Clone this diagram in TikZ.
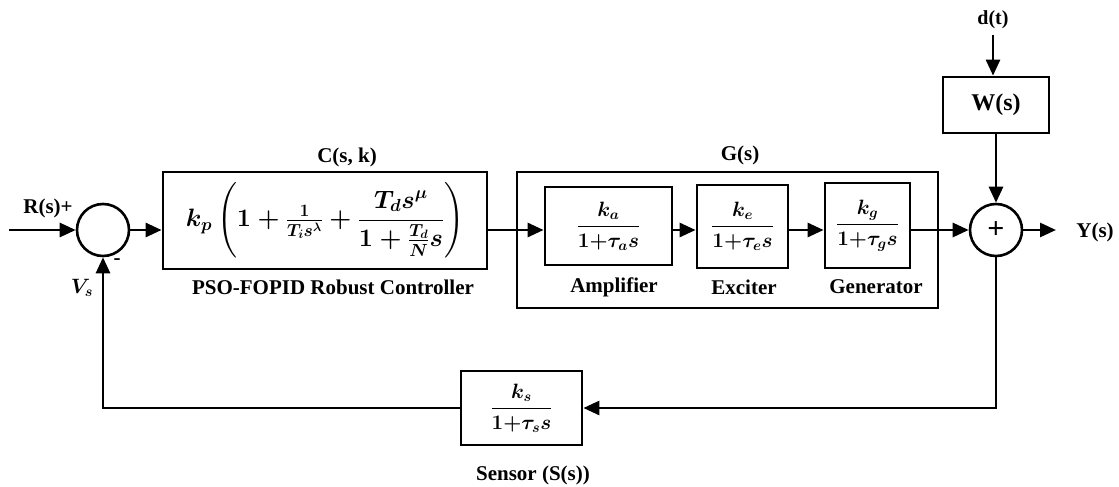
\documentclass[tikz,border=0pt]{standalone}
\usepackage{amsmath}
\usepackage{graphicx}
\usepackage{fontspec}
\setmainfont{Liberation Serif}
\usetikzlibrary{arrows.meta,calc}
\tikzset{
  blk/.style={draw, line width=2.8pt, inner sep=0pt},
  sumc/.style={draw, circle, line width=2.6pt, minimum size=52pt, inner sep=0pt},
  arr/.style={line width=2.8pt, -{Triangle[length=16pt,width=14pt]}},
  lbl/.style={font=\fontsize{21}{24}\selectfont\bfseries, inner sep=0pt},
  tf/.style={font=\fontsize{21}{24}\selectfont\boldmath},
}
\begin{document}
\begin{tikzpicture}[x=1pt,y=-1pt]
\useasboundingbox (0,0) rectangle (1119,487);
% summing junctions
\node[sumc] (sum1) at (103,230) {};
\node[sumc, font=\fontsize{30}{30}\selectfont\bfseries] (sum2) at (996,230) {+};
\coordinate (in) at (9,230);
\coordinate (yend) at (1056,230);
% controller
\node[blk, minimum width=324pt, minimum height=97pt] (ctrl) at (325,220.5)
  {\resizebox{278pt}{!}{\fontsize{24}{28}\selectfont\boldmath$k_p\left(1+\tfrac{1}{T_i s^{\lambda}}+\dfrac{T_d s^{\mu}}{1+\tfrac{T_d}{N}s}\right)$}};
% plant
\node[blk, minimum width=421pt, minimum height=136pt] (gbox) at (727.5,240) {};
\node[blk, tf, minimum width=127pt, minimum height=78pt] (amp) at (608.5,226) {$\dfrac{k_a}{1{+}\tau_a s}$};
\node[blk, tf, minimum width=91pt, minimum height=83pt] (exc) at (742.5,226.5) {$\dfrac{k_e}{1{+}\tau_e s}$};
\node[blk, tf, minimum width=85pt, minimum height=85pt] (gen) at (867.5,225.5) {$\dfrac{k_g}{1{+}\tau_g s}$};
% disturbance
\node[blk, minimum width=106pt, minimum height=56pt, font=\fontsize{24}{28}\selectfont\bfseries] (wbox) at (996,105) {W(s)};
\node[lbl, font=\fontsize{20}{24}\selectfont\bfseries] (dt) at (993,20) {d(t)};
% sensor
\node[blk, tf, minimum width=121pt, minimum height=74pt] (sens) at (521.5,408) {$\dfrac{k_s}{1{+}\tau_s s}$};
% labels
\node[lbl] (lc) at (347,157) {C(s, k)};
\node[lbl] (lg) at (740,155) {G(s)};
\node[lbl] (lpso) at (333,287) {PSO-FOPID Robust Controller};
\node[lbl] (lamp) at (614,287) {Amplifier};
\node[lbl] (lexc) at (744,287) {Exciter};
\node[lbl] (lgen) at (876,287) {Generator};
\node[lbl] (lsens) at (533,475) {Sensor (S(s))};
\node[lbl] (lr) at (48,208) {R(s)+};
\node[lbl] (ly) at (1095,232) {Y(s)};
\node[inner sep=0pt, font=\fontsize{22}{24}\selectfont\boldmath] (lvs) at (82,288) {$V_s$};
\node[lbl] (lminus) at (117,262) {-};
% connectors
\draw[arr] (in) -- (sum1.west);
\draw[arr] (sum1.east) -- (sum1.east -| ctrl.west);
\draw[arr] (sum1.east -| ctrl.east) -- (sum1.east -| amp.west);
\draw[arr] (sum1.east -| amp.east) -- (sum1.east -| exc.west);
\draw[arr] (sum1.east -| exc.east) -- (sum1.east -| gen.west);
\draw[arr] (sum1.east -| gen.east) -- (sum2.west);
\draw[arr] (dt.south) ++(0,6) -- (dt.south |- wbox.north);
\draw[arr] (wbox.south -| sum2) -- (sum2.north);
\draw[arr] (sum2.east) -- (yend);
\draw[arr] (sum2.south) |- (sens.east);
\draw[arr] (sens.west) -| (sum1.south);
\end{tikzpicture}
\end{document}
